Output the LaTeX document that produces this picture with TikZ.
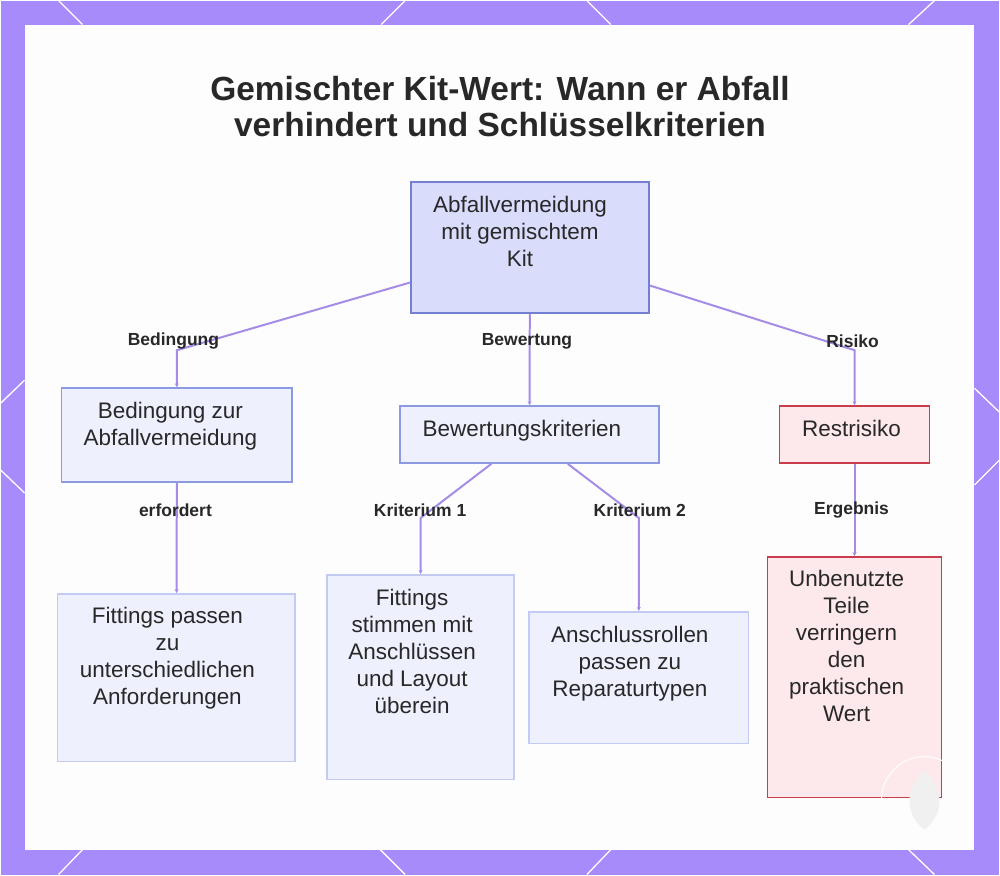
\documentclass[tikz,border=0pt]{standalone}
\usepackage{fontspec}
\setmainfont{Liberation Sans}
\usetikzlibrary{arrows.meta}

\definecolor{framepurple}{RGB}{167,139,250}
\definecolor{panelwhite}{RGB}{253,253,253}
\definecolor{linkpurple}{RGB}{165,140,230}
\definecolor{rootfill}{RGB}{218,220,252}
\definecolor{rootline}{RGB}{115,128,210}
\definecolor{midfill}{RGB}{238,240,253}
\definecolor{midline}{RGB}{140,155,225}
\definecolor{leaffill}{RGB}{238,241,253}
\definecolor{leafline}{RGB}{195,203,243}
\definecolor{riskfill}{RGB}{253,232,235}
\definecolor{riskline}{RGB}{200,60,75}
\definecolor{inktext}{RGB}{40,40,40}

\begin{document}
\begin{tikzpicture}[x=1pt,y=-1pt]
  \tikzstyle{every node}+=[inner sep=0pt]
  \tikzstyle{rootbox}=[draw=rootline, fill=rootfill, line width=2pt]
  \tikzstyle{midbox}=[draw=midline, fill=midfill, line width=1.6pt]
  \tikzstyle{leafbox}=[draw=leafline, fill=leaffill, line width=1.6pt]
  \tikzstyle{riskbox}=[draw=riskline, fill=riskfill, line width=1.6pt]
  \tikzstyle{boxtext}=[anchor=north, align=center, text=inktext, font=\fontsize{22.5}{27}\selectfont]
  \tikzstyle{edgelabel}=[text=inktext, font=\fontsize{17.5}{20}\selectfont\bfseries]
  \tikzstyle{link}=[draw=linkpurple, line width=2pt, -{Stealth[length=4pt,width=4pt]}]
  \tikzstyle{trim}=[white, line width=1.3pt]

  \fill [framepurple] (0,0) rectangle (1000,875);
  \fill [panelwhite] (24,24) rectangle (975,850);
  \draw [trim] (58,0) -- (82,24);
  \draw [trim] (405,0) -- (381,24);
  \draw [trim] (587,0) -- (611,24);
  \draw [trim] (935,0) -- (909,24);
  \draw [trim] (82,850) -- (58,875);
  \draw [trim] (380,850) -- (405,875);
  \draw [trim] (611,850) -- (587,875);
  \draw [trim] (909,850) -- (935,875);
  \draw [trim] (0,403) -- (24,380);
  \draw [trim] (0,470) -- (24,493);
  \draw [trim] (975,388) -- (1000,412);
  \draw [trim] (975,485) -- (1000,460);

  \node (title) [anchor=north, align=center, text=inktext, font=\fontsize{33.5}{37}\selectfont\bfseries] at (500,75)
    {Gemischter Kit-Wert: Wann er Abfall\\verhindert und Schlüsselkriterien};

  \node (root) [rootbox, minimum width=238pt, minimum height=131pt] at (530,247.5) {};
  \node (cond) [midbox, minimum width=231pt, minimum height=94pt] at (176.5,435) {};
  \node (crit) [midbox, minimum width=259pt, minimum height=57pt] at (529.5,434.5) {};
  \node (risk) [riskbox, minimum width=150pt, minimum height=57pt] at (855,434.5) {};
  \node (fitreq) [leafbox, minimum width=238pt, minimum height=168pt] at (176,678) {};
  \node (fitlay) [leafbox, minimum width=187pt, minimum height=205pt] at (420.5,677.5) {};
  \node (rolls) [leafbox, minimum width=220pt, minimum height=132pt] at (639,678) {};
  \node (unused) [riskbox, minimum width=174pt, minimum height=241pt] at (855,677.5) {};

  \node (root-txt) [boxtext] at (520,195.5) {Abfallvermeidung\\mit gemischtem\\Kit};
  \node (cond-txt) [boxtext] at (170,402) {Bedingung zur\\Abfallvermeidung};
  \node (crit-txt) [boxtext] at (522,420) {Bewertungskriterien};
  \node (risk-txt) [boxtext] at (852,420) {Restrisiko};
  \node (fitreq-txt) [boxtext] at (167,607) {Fittings passen\\zu\\unterschiedlichen\\Anforderungen};
  \node (fitlay-txt) [boxtext] at (412,589) {Fittings\\stimmen mit\\Anschlüssen\\und Layout\\überein};
  \node (rolls-txt) [boxtext] at (630,626) {Anschlussrollen\\passen zu\\Reparaturtypen};
  \node (unused-txt) [boxtext] at (847,570) {Unbenutzte\\Teile\\verringern\\den\\praktischen\\Wert};

  \coordinate (condbend) at (176.5,350);
  \coordinate (riskbend) at (855,350);
  \coordinate (fitlaybend) at (420.5,518);
  \coordinate (rollsbend) at (639,518);

  \draw [link] (root) -- (condbend) -- (cond.north);
  \draw [link] (root) -- (crit);
  \draw [link] (root) -- (riskbend) -- (risk.north);
  \draw [link] (cond) -- (fitreq);
  \draw [link] (crit) -- (fitlaybend) -- (fitlay.north);
  \draw [link] (crit) -- (rollsbend) -- (rolls.north);
  \draw [link] (risk) -- (unused);

  \node (lab-cond) [edgelabel] at (173,341) {Bedingung};
  \node (lab-crit) [edgelabel] at (527,341) {Bewertung};
  \node (lab-risk) [edgelabel] at (853,341) {Risiko};
  \node (lab-req) [edgelabel] at (175,510) {erfordert};
  \node (lab-k1) [edgelabel] at (420,510) {Kriterium 1};
  \node (lab-k2) [edgelabel] at (640,510) {Kriterium 2};
  \node (lab-res) [edgelabel] at (852,510) {Ergebnis};

  \draw [white, line width=1pt] (925,800) circle (43);
  \fill [black!6] (925,770) .. controls (945,790) and (945,815) .. (925,830) .. controls (905,815) and (905,790) .. (925,770);
\end{tikzpicture}
\end{document}
